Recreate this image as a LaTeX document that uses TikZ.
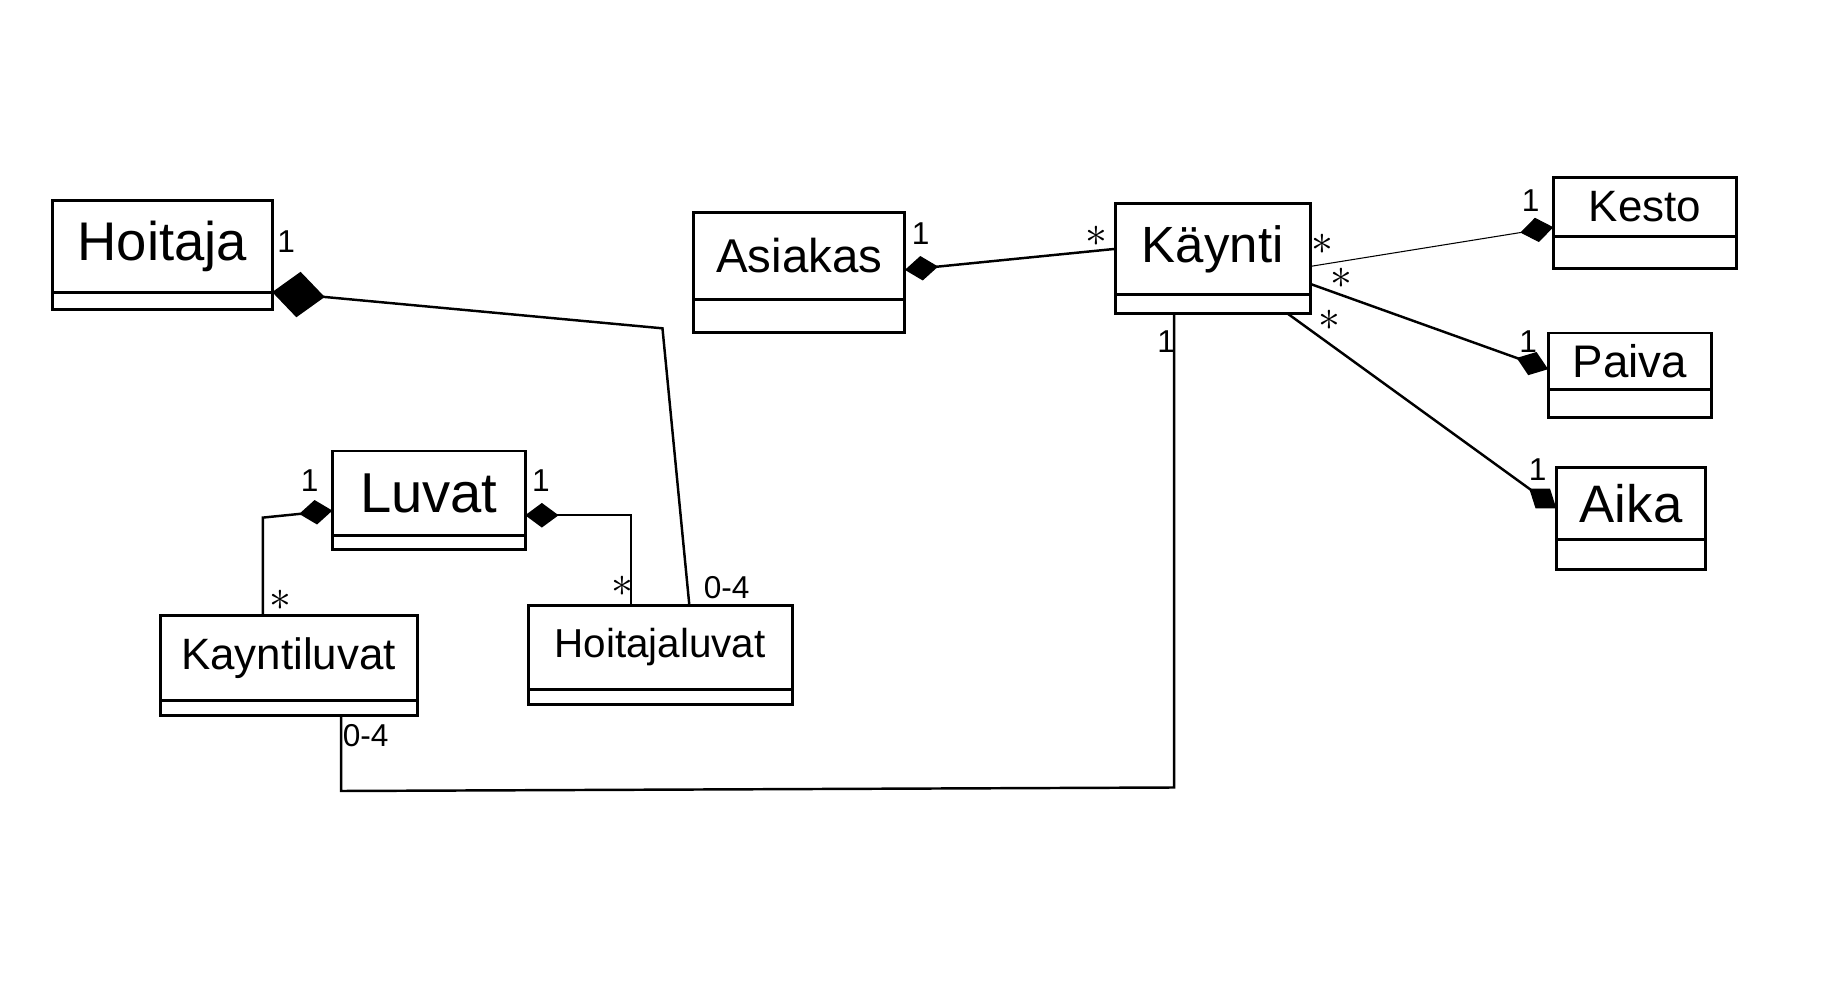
\documentclass[tikz,border=0pt]{standalone}
\usepackage{fontspec}
\setmainfont{Liberation Sans}
\usetikzlibrary{positioning,arrows.meta,calc}

\def\pxu{0.02337cm}

\tikzset{
  cls/.style={draw, line width=1.7pt, outer sep=0pt, inner sep=2pt, font=\fontsize{#1}{#1}\selectfont},
  clsattr/.style={draw, line width=1.7pt, outer sep=0pt, inner sep=0pt},
  conn/.style={line width=1.4pt},
  comp/.style={conn, {Diamond[fill=black,length=19pt,width=14pt]}-},
  compbig/.style={conn, {Diamond[fill=black,length=30pt,width=26pt]}-},
  mult/.style={inner sep=1pt, font=\fontsize{18}{20}\selectfont},
  star/.style={inner sep=0pt, font=\fontsize{28}{28}\selectfont},
}

\begin{document}
\begin{tikzpicture}[x=\pxu, y=-\pxu]
  \fill[white] (0,0) rectangle (1568,839);
  \useasboundingbox (0,0) rectangle (1568,839);

  % classes, left part
  \node[cls=31, minimum width=188*\pxu, minimum height=78*\pxu] (hoitaja) at (139,211) {Hoitaja};
  \node[clsattr, minimum width=188*\pxu, minimum height=15*\pxu, below=0pt of hoitaja] (hoitaja-a) {};

  \node[cls=32, minimum width=165*\pxu, minimum height=72*\pxu] (luvat) at (367,422) {Luvat};
  \node[clsattr, minimum width=165*\pxu, minimum height=12*\pxu, below=0pt of luvat] (luvat-a) {};

  \node[cls=25, minimum width=220*\pxu, minimum height=73*\pxu] (kayntiluvat) at (247,563) {Kayntiluvat};
  \node[clsattr, minimum width=220*\pxu, minimum height=13*\pxu, below=0pt of kayntiluvat] (kayntiluvat-a) {};

  \node[cls=23, minimum width=226*\pxu, minimum height=72*\pxu] (hoitajaluvat) at (565,554) {Hoitajaluvat};
  \node[clsattr, minimum width=226*\pxu, minimum height=13*\pxu, below=0pt of hoitajaluvat] (hoitajaluvat-a) {};

  % classes, middle
  \node[cls=27, minimum width=181*\pxu, minimum height=75*\pxu] (asiakas) at (684,219) {Asiakas};
  \node[clsattr, minimum width=181*\pxu, minimum height=28*\pxu, below=0pt of asiakas] (asiakas-a) {};

  \node[cls=29, minimum width=167*\pxu, minimum height=78*\pxu] (kaynti) at (1038,213) {Käynti};
  \node[clsattr, minimum width=167*\pxu, minimum height=16*\pxu, below=0pt of kaynti] (kaynti-a) {};

  % classes, right
  \node[cls=25, minimum width=157*\pxu, minimum height=51*\pxu] (kesto) at (1408,177) {Kesto};
  \node[clsattr, minimum width=157*\pxu, minimum height=27*\pxu, below=0pt of kesto] (kesto-a) {};

  \node[cls=26, minimum width=140*\pxu, minimum height=48*\pxu] (paiva) at (1395,309) {Paiva};
  \node[clsattr, minimum width=140*\pxu, minimum height=24*\pxu, below=0pt of paiva] (paiva-a) {};

  \node[cls=30, minimum width=128*\pxu, minimum height=62*\pxu] (aika) at (1396,431) {Aika};
  \node[clsattr, minimum width=128*\pxu, minimum height=25*\pxu, below=0pt of aika] (aika-a) {};

  % bends
  \coordinate (hbend) at (567,281);
  \coordinate (lbend) at (225,443);
  \coordinate (rbend) at (540,441);
  \coordinate (kbend) at (1005,674);
  \coordinate (kbend2) at (292,677);

  % connectors
  \draw[compbig] (hoitaja.south east) -- (hbend) -- ($(hoitajaluvat.north)+(25,0)$);
  \draw[comp] ($(asiakas.east)+(0,12)$) -- (kaynti.west);
  \draw[comp, line width=0.6pt] ($(kesto.south west)+(0,-8)$) -- ($(kaynti.east)+(0,15)$);
  \draw[comp] ($(paiva.west)+(0,7)$) -- ($(kaynti.east)+(0,30)$);
  \draw[comp] ($(aika.west)+(0,4)$) -- ($(kaynti-a.south east)+(-20,0)$);
  \draw[conn] (kbend |- kaynti-a.south) -- (kbend) -- (kbend2) -- (kbend2 |- kayntiluvat-a.south);
  \draw[comp] ($(luvat.west)+(0,15)$) -- (lbend) -- (lbend |- kayntiluvat.north);
  \draw[comp] ($(luvat.east)+(0,19)$) -- (rbend) -- (rbend |- hoitajaluvat.north);

  % multiplicities
  \node[mult] (m1) at (245,207) {1};
  \node[mult] (m2) at (622,503) {0-4};
  \node[mult] (m3) at (788,200) {1};
  \node[star] (m4) at (938,202) {$\ast$};
  \node[star] (m5) at (1132,209) {$\ast$};
  \node[star] (m6) at (1148,238) {$\ast$};
  \node[star] (m7) at (1138,274) {$\ast$};
  \node[mult] (m8) at (1310,172) {1};
  \node[mult] (m9) at (1308,292) {1};
  \node[mult] (m10) at (1316,402) {1};
  \node[mult] (m11) at (998,292) {1};
  \node[mult] (m12) at (313,630) {0-4};
  \node[mult] (m13) at (265,411) {1};
  \node[star] (m14) at (240,514) {$\ast$};
  \node[mult] (m15) at (463,411) {1};
  \node[star] (m16) at (533,502) {$\ast$};
\end{tikzpicture}
\end{document}
